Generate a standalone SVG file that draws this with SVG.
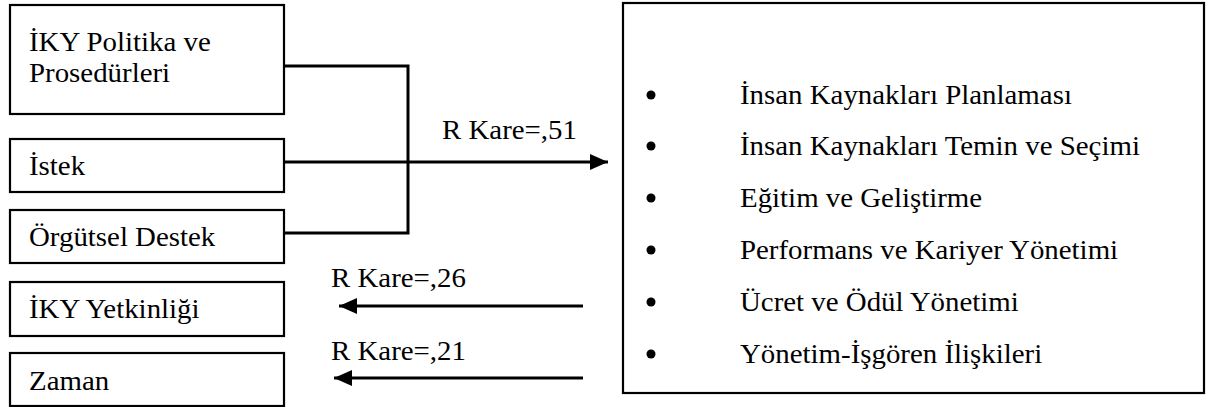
<svg xmlns="http://www.w3.org/2000/svg" width="1207" height="407" viewBox="0 0 1207 407">
<defs>
<style>
.box{fill:#fff;stroke:#000;stroke-width:2.2}
.t{font-family:'Times New Roman','Liberation Serif',Times,serif;font-size:26.5px;fill:#000}
.ln{fill:none;stroke:#000;stroke-width:3}
</style>
<marker id="ah" markerUnits="userSpaceOnUse" markerWidth="20" markerHeight="18" refX="18" refY="8" orient="auto">
<path d="M0,0 L18,8 L0,16 Z" fill="#000"/>
</marker>
</defs>
<rect width="1207" height="407" fill="#fff"/>
<g id="n1"><rect class="box" x="10" y="5" width="274" height="109"/>
<text class="t" transform="translate(29,51) scale(1.09,1)">İKY Politika ve</text>
<text class="t" transform="translate(29,82) scale(1.09,1)">Prosedürleri</text></g>
<g id="n2"><rect class="box" x="10" y="139" width="274" height="53"/>
<text class="t" transform="translate(29,175) scale(1.09,1)">İstek</text></g>
<g id="n3"><rect class="box" x="10" y="210" width="274" height="53"/>
<text class="t" transform="translate(29,246) scale(1.09,1)">Örgütsel Destek</text></g>
<g id="n4"><rect class="box" x="10" y="282" width="274" height="54"/>
<text class="t" transform="translate(29,318) scale(1.09,1)">İKY Yetkinliği</text></g>
<g id="n5"><rect class="box" x="10" y="353" width="274" height="53"/>
<text class="t" transform="translate(29,390) scale(1.09,1)">Zaman</text></g>
<g id="n6"><rect class="box" x="623" y="3" width="581" height="390"/>
<g fill="#000"><circle cx="651" cy="95" r="4.5"/><circle cx="651" cy="146" r="4.5"/><circle cx="651" cy="198" r="4.5"/><circle cx="651" cy="250" r="4.5"/><circle cx="651" cy="302" r="4.5"/><circle cx="651" cy="354" r="4.5"/></g>
<text class="t" transform="translate(740,104) scale(1.09,1)">İnsan Kaynakları Planlaması</text>
<text class="t" transform="translate(740,155) scale(1.09,1)">İnsan Kaynakları Temin ve Seçimi</text>
<text class="t" transform="translate(740,207) scale(1.09,1)">Eğitim ve Geliştirme</text>
<text class="t" transform="translate(740,259) scale(1.09,1)">Performans ve Kariyer Yönetimi</text>
<text class="t" transform="translate(740,311) scale(1.09,1)">Ücret ve Ödül Yönetimi</text>
<text class="t" transform="translate(740,363) scale(1.09,1)">Yönetim-İşgören İlişkileri</text></g>
<g id="connectors">
<polyline class="ln" points="284,66 408,66 408,233 284,233"/>
<line class="ln" x1="284" y1="162" x2="608" y2="162" marker-end="url(#ah)"/>
<line class="ln" x1="583" y1="306" x2="339" y2="306" marker-end="url(#ah)"/>
<line class="ln" x1="583" y1="378" x2="334" y2="378" marker-end="url(#ah)"/>
<text class="t" transform="translate(442,139) scale(1.09,1)">R Kare=,51</text>
<text class="t" transform="translate(331,287) scale(1.09,1)">R Kare=,26</text>
<text class="t" transform="translate(331,360) scale(1.09,1)">R Kare=,21</text>
</g>
</svg>
